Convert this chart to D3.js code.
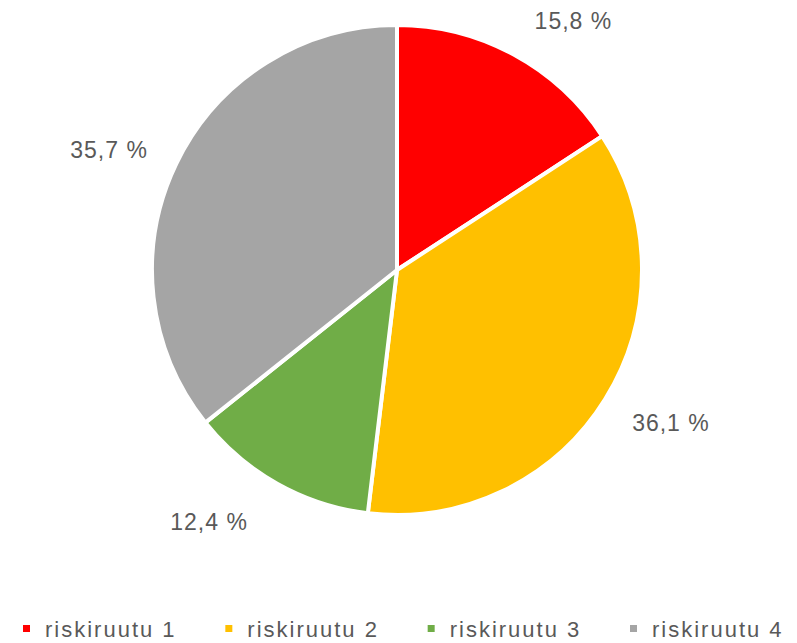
<!DOCTYPE html>
<html>
<head>
<meta charset="utf-8">
<script src="https://cdn.jsdelivr.net/npm/d3@7"></script>
<style>
  html, body { margin: 0; padding: 0; background: #fff; }
  svg { display: block; }
</style>
</head>
<body>
<script>
const categories = ['riskiruutu 1', 'riskiruutu 2', 'riskiruutu 3', 'riskiruutu 4']
const values = [15.8, 36.1, 12.4, 35.7]
const colors = ['#ff0000', '#ffc000', '#70ad47', '#a5a5a5']

const width = 797, height = 643
const cx = 397, cy = 270, radius = 245
// Excel "best fit" style nudges for the data labels (degrees, radius)
const labelShift = [6.9, -2.6, 7.6, -3.1]
const labelRadius = [305, 314, 314, 312]

const svg = d3.select('body')
  .append('svg')
  .attr('width', width)
  .attr('height', height)
  .style('font-family', '"Liberation Sans", Arial, sans-serif')

const data = categories.map((c, i) => ({ name: c, value: values[i], color: colors[i] }))

const pie = d3.pie().sort(null).value(d => d.value)
const arc = d3.arc().innerRadius(0).outerRadius(radius)
const arcs = pie(data)

const g = svg.append('g')
  .attr('transform', `translate(${cx},${cy})`)

g.selectAll('path').data(arcs).enter()
  .append('path')
  .attr('d', arc)
  .attr('fill', d => d.data.color)
  .attr('stroke', '#fff')
  .attr('stroke-width', 4)
  .attr('stroke-linejoin', 'round')

const fmt = v => d3.format('.1f')(v).replace('.', ',') + ' %'

let labelPos = (d, i) => {
  const a = (d.startAngle + d.endAngle) / 2 + labelShift[i] * Math.PI / 180
  return [Math.sin(a) * labelRadius[i], -Math.cos(a) * labelRadius[i]]
}

g.selectAll('text.lbl').data(arcs).enter()
  .append('text')
  .attr('class', 'lbl')
  .attr('x', (d, i) => labelPos(d, i)[0])
  .attr('y', (d, i) => labelPos(d, i)[1])
  .attr('text-anchor', 'middle')
  .attr('dominant-baseline', 'central')
  .attr('font-size', 23)
  .attr('letter-spacing', 1)
  .attr('fill', '#595959')
  .text(d => fmt(d.data.value))

// legend
const legendX = d3.scalePoint().domain(categories).range([23, 630])

const leg = svg.append('g')
  .selectAll('g').data(data).enter()
  .append('g')
  .attr('transform', d => `translate(${legendX(d.name)},625)`)

leg.append('rect')
  .attr('width', 7)
  .attr('height', 7)
  .attr('fill', d => d.color)

leg.append('text')
  .attr('x', 22)
  .attr('y', 12)
  .attr('font-size', 22)
  .attr('letter-spacing', 2)
  .attr('fill', '#595959')
  .text(d => d.name)
</script>
</body>
</html>
